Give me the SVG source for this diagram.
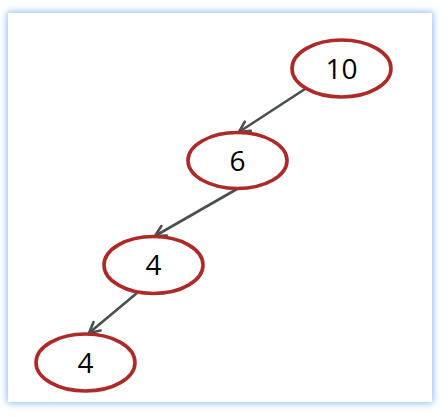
<svg xmlns="http://www.w3.org/2000/svg" width="448" height="417" viewBox="0 0 448 417">
<defs>
<filter id="glow" x="-10%" y="-10%" width="120%" height="120%">
<feGaussianBlur stdDeviation="3.5"/>
</filter>
<marker id="arr" viewBox="0 0 14 14" refX="12" refY="7" markerWidth="14" markerHeight="14" markerUnits="userSpaceOnUse" orient="auto">
<path d="M1.5,1.5 L12,7 L1.5,12.5" fill="none" stroke="#4a4f50" stroke-width="2.6" stroke-linecap="round" stroke-linejoin="round"/>
</marker>
</defs>
<style>
.n{fill:#fff;stroke:#ac2a27;stroke-width:3.6}
.t{font-family:"Open Sans","Noto Sans",sans-serif;font-size:28px;fill:#000;text-anchor:middle;dominant-baseline:central}
.e{stroke:#4a4f50;stroke-width:2.6;fill:none;marker-end:url(#arr)}
</style>
<rect x="0" y="0" width="448" height="417" fill="#fff"/>
<rect x="7" y="12" width="426" height="391" fill="#8ab8f5" filter="url(#glow)"/>
<rect x="8" y="13" width="424" height="389" fill="#fff"/>
<g id="edges">
<line class="e" x1="305" y1="89" x2="239" y2="132"/>
<line class="e" x1="237" y1="189" x2="155" y2="236"/>
<line class="e" x1="137" y1="293" x2="89" y2="333"/>
</g>
<g id="n10"><ellipse class="n" cx="341.5" cy="68.5" rx="49.5" ry="28.5"/><text class="t" x="341.5" y="68">10</text></g>
<g id="n6"><ellipse class="n" cx="237.5" cy="160.5" rx="49.5" ry="28"/><text class="t" x="237.5" y="160">6</text></g>
<g id="n4a"><ellipse class="n" cx="153.5" cy="265" rx="49.5" ry="28.5"/><text class="t" x="153.5" y="264">4</text></g>
<g id="n4b"><ellipse class="n" cx="85.5" cy="362.5" rx="49.5" ry="28.5"/><text class="t" x="85.5" y="362">4</text></g>
</svg>
